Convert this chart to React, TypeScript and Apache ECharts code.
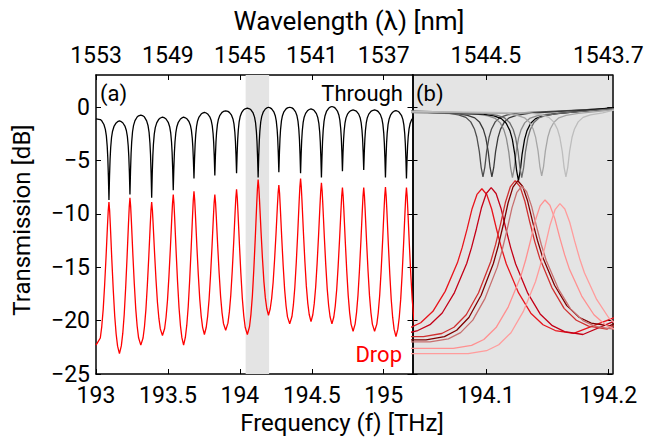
import React, { useEffect, useRef } from 'react';
import * as echarts from 'echarts';

const FONT = "Roboto, 'Open Sans', sans-serif";
const FS_TICK = 23;
const FS_NOTE = 22;

// ---------- axis ticks / labels ----------
const freqTicksA = [193, 193.5, 194, 194.5, 195];
const freqLabelsA = ['193', '193.5', '194', '194.5', '195'];
const wavelengthLabelsA = ['1553', '1549', '1545', '1541', '1537'];
const freqTicksB = [194.1, 194.2];
const freqLabelsB = ['194.1', '194.2'];
const wavelengthLabelsB = ['1544.5', '1543.7'];
const transmissionTicks = [-25, -20, -15, -10, -5, 0];
const transmissionLabels = ['\u221225', '\u221220', '\u221215', '\u221210', '\u22125', '0'];

// ---------- panel (a): full spectrum ----------
const resonanceFreqA = [193.090, 193.236, 193.387, 193.537, 193.681, 193.826, 193.977, 194.127,
  194.271, 194.422, 194.567, 194.713, 194.861, 195.012, 195.158];
const throughDipA = [-8.7, -8.2, -8.5, -7.8, -6.7, -6.4, -6.2, -6.6, -6.1, -6.2, -6.6, -6.0, -5.9, -6.6, -6.7];
// level between dips (start, between each pair, end)
const throughTopA = [-1.1, -1.3, -0.75, -0.95, -0.95, -0.5, -0.35, -0.1, -0.02, -0.02, -0.17, 0.05, -0.27, -0.27, -0.33, -0.8];
const dropPeakA = [-8.9, -8.5, -8.9, -8.2, -7.9, -8.2, -7.7, -6.8, -7.3, -6.7, -7.1, -7.55, -7.55, -7.5, -7.55];
const dropFloorA = [-22.3, -23.1, -22.3, -21.4, -22.3, -21.3, -20.9, -21.3, -19.5, -20.3, -20.1, -20.3, -21.0, -21.0, -21.5, -21.5];
// line shape: offset from resonance (THz) -> fraction from extreme to edge level
const throughShapeOffsetA = [0, 0.004, 0.008, 0.012, 0.018, 0.025, 0.035, 0.05, 0.06];
const throughShapeFracA = [0, 0.3, 0.52, 0.66, 0.79, 0.87, 0.93, 0.975, 0.99];
const dropShapeOffsetA = [0, 0.005, 0.01, 0.015, 0.02, 0.03, 0.04, 0.05, 0.06];
const dropShapeFracA = [0, 0.06, 0.16, 0.27, 0.38, 0.58, 0.75, 0.87, 0.95];
const shadedBand = [194.04, 194.2033];

// ---------- panel (b): zoom on one resonance, several traces ----------
const throughFreqB = [194.0976, 194.1049, 194.1217, 194.1266, 194.1293, 194.1456, 194.1654];
const throughDipB = [-6.55, -6.55, -6.6, -6.9, -6.6, -6.45, -6.55];
const throughPlateauB = [-0.55, -0.6, -0.65, -0.65, -0.6, -0.6, -0.55];
const throughLeftB = [-0.45, -0.4, -0.5, -0.45, -0.35, -0.5, -0.4];
const throughRightB = [-0.1, -0.05, -0.15, 0.0, -0.1, -0.2, -0.15];
const throughColorsB = ['#4d4d4d', '#3a3a3a', '#8c8c8c', '#000000', '#6e6e6e', '#a6a6a6', '#bdbdbd'];
const throughShapeOffsetB = [0, 0.0015, 0.003, 0.005, 0.007, 0.01, 0.014, 0.02, 0.03];
const throughShapeFracB = [0, 0.15, 0.4, 0.62, 0.75, 0.86, 0.93, 0.97, 1];

const dropFreqB = [194.0967, 194.1043, 194.1239, 194.1261, 194.1293, 194.1483, 194.1605];
const dropPeakB = [-7.65, -7.55, -6.9, -6.9, -7.4, -8.7, -9.05];
const dropLeftB = [-21.0, -21.2, -21.5, -21.8, -22.0, -22.6, -23.1];
const dropFloorRightB = [-21.2, -21.3, -20.8, -20.5, -20.8, -21.2, -21.5];
const dropRightB = [-19.5, -19.8, -20.2, -20.0, -20.4, -20.4, -20.7];
const dropColorsB = ['#e8141c', '#c40018', '#d03030', '#7f0000', '#c87070', '#ff9090', '#ff9c9c'];
const dropShapeOffsetB = [0, 0.004, 0.008, 0.012, 0.016, 0.02, 0.03, 0.04, 0.05, 0.06, 0.075];
const dropShapeFracB = [0, 0.04, 0.14, 0.28, 0.41, 0.52, 0.72, 0.86, 0.94, 0.98, 1];

type Pt = [number, number];

function buildPanelA(centers: number[], extreme: number[], edges: number[], offs: number[], fracs: number[]): Pt[] {
  const bounds: number[] = [193.0];
  for (let k = 1; k < centers.length; k++) bounds.push((centers[k - 1] + centers[k]) / 2);
  bounds.push(centers[centers.length - 1] + 0.074);
  const pts: Pt[] = [[bounds[0], edges[0]]];
  centers.forEach((c, k) => {
    const lo = bounds[k];
    const hi = bounds[k + 1];
    for (let i = offs.length - 1; i >= 1; i--) {
      const x = c - offs[i];
      if (x > lo) pts.push([x, extreme[k] + fracs[i] * (edges[k] - extreme[k])]);
    }
    pts.push([c, extreme[k]]);
    for (let i = 1; i < offs.length; i++) {
      const x = c + offs[i];
      if (x < hi) pts.push([x, extreme[k] + fracs[i] * (edges[k + 1] - extreme[k])]);
    }
    pts.push([hi, edges[k + 1]]);
  });
  return pts;
}

function buildPanelB(c: number, extreme: number, leftEdge: number, leftFloor: number, rightFloor: number,
  rightEdge: number, offs: number[], fracs: number[]): Pt[] {
  const xLo = 194.035;
  const xHi = 194.21;
  const pts: Pt[] = [[xLo, leftEdge]];
  for (let i = offs.length - 1; i >= 1; i--) {
    const x = c - offs[i];
    if (x > xLo) pts.push([x, extreme + fracs[i] * (leftFloor - extreme)]);
  }
  pts.push([c, extreme]);
  for (let i = 1; i < offs.length; i++) {
    const x = c + offs[i];
    if (x < xHi) pts.push([x, extreme + fracs[i] * (rightFloor - extreme)]);
  }
  pts.push([xHi, rightEdge]);
  return pts;
}

function labelFor(ticks: number[], labels: string[]) {
  return (v: number) => {
    const i = ticks.findIndex((t) => Math.abs(t - v) < 1e-6);
    return i >= 0 ? labels[i] : '';
  };
}

const axisLineStyle = { show: true, onZero: false, lineStyle: { color: '#000', width: 1.5 } };
const labelStyle = { color: '#000', fontSize: FS_TICK, fontFamily: FONT };

function xAxisDef(grid: number, pos: 'top' | 'bottom', min: number, max: number, ticks: number[], labels: string[]) {
  return {
    type: 'value', gridIndex: grid, position: pos, min, max,
    axisLine: axisLineStyle,
    axisTick: { show: true, inside: true, length: 5, customValues: ticks, lineStyle: { color: '#000', width: 1 } },
    axisLabel: {
      show: true, customValues: ticks, formatter: labelFor(ticks, labels),
      margin: pos === 'bottom' ? 10 : 8, ...labelStyle,
    },
    splitLine: { show: false },
  };
}

function yAxisDef(grid: number, pos: 'left' | 'right', showLabels: boolean) {
  return {
    type: 'value', gridIndex: grid, position: pos, min: -25, max: 3,
    axisLine: axisLineStyle,
    axisTick: { show: true, inside: true, length: 5, customValues: transmissionTicks, lineStyle: { color: '#000', width: 1 } },
    axisLabel: {
      show: showLabels, customValues: transmissionTicks,
      formatter: labelFor(transmissionTicks, transmissionLabels), margin: 6, ...labelStyle,
    },
    splitLine: { show: false },
  };
}

export default function App() {
  const ref = useRef<HTMLDivElement>(null);
  useEffect(() => {
    document.body.style.margin = '0';
    if (!ref.current) return;
    const chart = echarts.init(ref.current, undefined, { renderer: 'svg' });

    const throughA = buildPanelA(resonanceFreqA, throughDipA, throughTopA, throughShapeOffsetA, throughShapeFracA);
    const dropA = buildPanelA(resonanceFreqA, dropPeakA, dropFloorA, dropShapeOffsetA, dropShapeFracA);

    const series: any[] = [
      {
        type: 'line', xAxisIndex: 0, yAxisIndex: 0, data: throughA, showSymbol: false, z: 3,
        lineStyle: { color: '#000', width: 1.3 }, silent: true,
        markArea: {
          silent: true, z: 1,
          itemStyle: { color: '#e4e4e4' },
          data: [[{ xAxis: shadedBand[0] }, { xAxis: shadedBand[1] }]],
        },
      },
      {
        type: 'line', xAxisIndex: 0, yAxisIndex: 0, data: dropA, showSymbol: false, z: 3,
        lineStyle: { color: '#ff0000', width: 1.3 }, silent: true,
      },
    ];
    throughFreqB.forEach((c, i) => {
      series.push({
        type: 'line', xAxisIndex: 2, yAxisIndex: 2, showSymbol: false, silent: true, z: 3,
        lineStyle: { color: throughColorsB[i], width: 1.3 },
        data: buildPanelB(c, throughDipB[i], throughLeftB[i], throughPlateauB[i], throughPlateauB[i],
          throughRightB[i], throughShapeOffsetB, throughShapeFracB),
      });
    });
    dropFreqB.forEach((c, i) => {
      series.push({
        type: 'line', xAxisIndex: 2, yAxisIndex: 2, showSymbol: false, silent: true, z: 3,
        lineStyle: { color: dropColorsB[i], width: 1.3 },
        data: buildPanelB(c, dropPeakB[i], dropLeftB[i], dropLeftB[i], dropFloorRightB[i],
          dropRightB[i], dropShapeOffsetB, dropShapeFracB),
      });
    });

    const txt = (text: string, x: number, y: number, align: string, size: number, color = '#000', rotation = 0) => ({
      type: 'text', x, y, rotation, z: 10,
      style: { text, fill: color, fontSize: size, fontFamily: FONT, align, verticalAlign: 'middle' },
    });

    chart.setOption({
      animation: false,
      backgroundColor: '#fff',
      grid: [
        { left: 96, top: 75, width: 316.5, height: 299, show: false },
        { left: 412.5, top: 75, width: 199.8, height: 299, show: true, backgroundColor: '#e4e4e4', borderWidth: 0 },
      ],
      xAxis: [
        xAxisDef(0, 'bottom', 193, 195.2, freqTicksA, freqLabelsA),
        xAxisDef(0, 'top', 193, 195.2, freqTicksA, wavelengthLabelsA),
        xAxisDef(1, 'bottom', 194.04, 194.2033, freqTicksB, freqLabelsB),
        xAxisDef(1, 'top', 194.04, 194.2033, freqTicksB, wavelengthLabelsB),
      ],
      yAxis: [
        yAxisDef(0, 'left', true),
        yAxisDef(0, 'right', false),
        yAxisDef(1, 'left', false),
        yAxisDef(1, 'right', false),
      ],
      series,
      graphic: [
        txt('(a)', 100, 93, 'left', FS_NOTE),
        txt('Through', 403, 93, 'right', FS_NOTE),
        txt('Drop', 402, 354, 'right', FS_NOTE, '#ff0000'),
        txt('(b)', 416, 93, 'left', FS_NOTE),
        txt('Wavelength (\u03bb) [nm]', 349, 21, 'center', 26),
        txt('Frequency (f) [THz]', 342, 422.5, 'center', 24),
        txt('Transmission [dB]', 22, 220, 'center', 24, '#000', Math.PI / 2),
      ],
    });
    return () => chart.dispose();
  }, []);
  return <div ref={ref} style={{ width: 648, height: 437 }} />;
}
